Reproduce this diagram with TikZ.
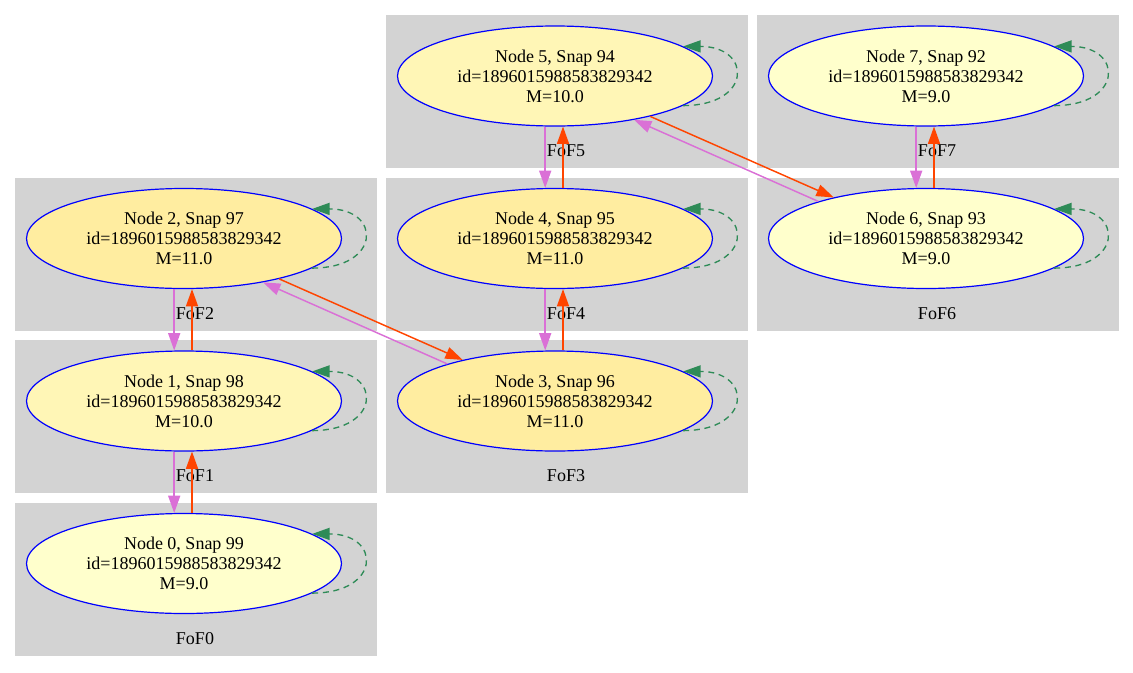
\documentclass[tikz,border=0pt]{standalone}
\usepackage{fontspec}
\setmainfont{Liberation Serif}
\usepackage{tikz}
\usetikzlibrary{shapes.geometric}
\usetikzlibrary{arrows.meta}
\usetikzlibrary{positioning,backgrounds}
\definecolor{mnine}{HTML}{FFFFCC}
\definecolor{mten}{HTML}{FFF6B6}
\definecolor{meleven}{HTML}{FFEDA0}
\definecolor{clustergray}{HTML}{D3D3D3}
\definecolor{fofviolet}{HTML}{DA70D6}
\definecolor{foforange}{HTML}{FF4500}
\definecolor{fofgreen}{HTML}{2E8B57}

\begin{document}
\begin{tikzpicture}[x=0.75pt,y=-0.75pt,node distance=121.875pt and 278.25pt,on grid,
	>={Triangle[length=13pt,width=9pt]},
	halo/.style={ellipse,draw=blue,line width=0.9pt,minimum width=236.25pt,minimum height=75pt,inner sep=0pt,align=center,font=\fontsize{13.5}{15}\selectfont},
	foflabel/.style={inner sep=0pt,font=\fontsize{13.5}{15}\selectfont},
	violetedge/.style={->,fofviolet,line width=1.1pt},
	orangeedge/.style={->,foforange,line width=1.1pt},
	selfloop/.style={->,fofgreen,line width=1pt,dash pattern=on 4.5pt off 3.5pt,out=0,in=0,looseness=3}]
	\useasboundingbox (0,0) rectangle (1133,672);
	\node[halo, fill=mten] (n5) at (555,76) {Node 5, Snap 94\\id=1896015988583829342\\M=10.0};
	 \node[halo, fill=meleven] (n4) [below=of n5] {Node 4, Snap 95\\id=1896015988583829342\\M=11.0};
	 \node[halo, fill=meleven] (n3) [below=of n4] {Node 3, Snap 96\\id=1896015988583829342\\M=11.0};
	 \node[halo, fill=meleven] (n2) [left=of n4] {Node 2, Snap 97\\id=1896015988583829342\\M=11.0};
	 \node[halo, fill=mten] (n1) [below=of n2] {Node 1, Snap 98\\id=1896015988583829342\\M=10.0};
	 \node[halo, fill=mnine] (n0) [below=of n1] {Node 0, Snap 99\\id=1896015988583829342\\M=9.0};
	 \node[halo, fill=mnine] (n6) [right=of n4] {Node 6, Snap 93\\id=1896015988583829342\\M=9.0};
	 \node[halo, fill=mnine] (n7) [above=of n6] {Node 7, Snap 92\\id=1896015988583829342\\M=9.0};

	 \begin{scope}[on background layer]
	  \fill[clustergray] ([shift={(-169,-61)}]n0.center) rectangle ++(361.5,153);
	  \fill[clustergray] ([shift={(-169,-61)}]n1.center) rectangle ++(361.5,153);
	  \fill[clustergray] ([shift={(-169,-61)}]n2.center) rectangle ++(361.5,153);
	  \fill[clustergray] ([shift={(-169,-61)}]n3.center) rectangle ++(361.5,153);
	  \fill[clustergray] ([shift={(-169,-61)}]n4.center) rectangle ++(361.5,153);
	  \fill[clustergray] ([shift={(-169,-61)}]n5.center) rectangle ++(361.5,153);
	  \fill[clustergray] ([shift={(-169,-61)}]n6.center) rectangle ++(361.5,153);
	  \fill[clustergray] ([shift={(-169,-61)}]n7.center) rectangle ++(361.5,153);
	 \end{scope}

	 \node[foflabel] (f0) at ([shift={(11,75)}]n0.center) {FoF0};
	 \node[foflabel] (f1) at ([shift={(11,75)}]n1.center) {FoF1};
	 \node[foflabel] (f2) at ([shift={(11,75)}]n2.center) {FoF2};
	 \node[foflabel] (f3) at ([shift={(11,75)}]n3.center) {FoF3};
	 \node[foflabel] (f4) at ([shift={(11,75)}]n4.center) {FoF4};
	 \node[foflabel] (f5) at ([shift={(11,75)}]n5.center) {FoF5};
	 \node[foflabel] (f6) at ([shift={(11,75)}]n6.center) {FoF6};
	 \node[foflabel] (f7) at ([shift={(11,75)}]n7.center) {FoF7};

	  \path
	    (n5.259) edge [violetedge] (n4.101)
	    (n4.81) edge [orangeedge] (n5.279)
	    (n4.259) edge [violetedge] (n3.101)
	    (n3.81) edge [orangeedge] (n4.279)
	    (n2.259) edge [violetedge] (n1.101)
	    (n1.81) edge [orangeedge] (n2.279)
	    (n1.259) edge [violetedge] (n0.101)
	    (n0.81) edge [orangeedge] (n1.279)
	    (n7.259) edge [violetedge] (n6.101)
	    (n6.81) edge [orangeedge] (n7.279)
	    (n2.-23) edge [orangeedge] (n3.156)
	    (n3.161) edge [violetedge] (n2.-29)
	    (n5.-23) edge [orangeedge] (n6.156)
	    (n6.161) edge [violetedge] (n5.-29)
	    (n0.-13) edge [selfloop] (n0.13)
	    (n1.-13) edge [selfloop] (n1.13)
	    (n2.-13) edge [selfloop] (n2.13)
	    (n3.-13) edge [selfloop] (n3.13)
	    (n4.-13) edge [selfloop] (n4.13)
	    (n5.-13) edge [selfloop] (n5.13)
	    (n6.-13) edge [selfloop] (n6.13)
	    (n7.-13) edge [selfloop] (n7.13)
	  ;
  \end{tikzpicture}
\end{document}
